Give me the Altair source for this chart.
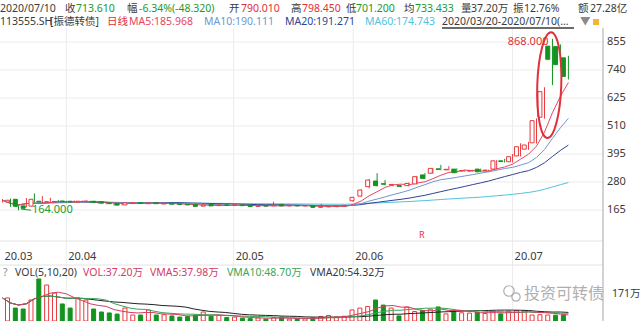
import altair as alt
import pandas as pd

# ---------------- data ----------------
opens = [198, 209, 182, 181, 201, 197, 198, 202, 201, 197,
         199, 201, 199, 194, 192, 186, 193, 195, 191, 194,
         190, 192, 189, 188, 187, 181, 188, 183, 186, 184,
         186, 185, 180, 184, 182, 188, 182, 184, 182, 183,
         176, 178, 179, 180, 203, 222, 261, 284, 273, 268,
         265, 265, 272, 309, 316, 334, 330, 333, 325, 325,
         333, 327, 333, 367, 363, 387, 415, 441, 546, 838,
         836, 790.01]
highs = [210, 212, 184, 214, 233, 222, 215, 205, 203, 204,
         204, 203, 200, 196, 193, 196, 197, 196, 196, 195,
         194, 193, 191, 190, 188, 187, 189, 188, 188, 188,
         187, 186, 185, 185, 199, 190, 186, 185, 185, 184,
         190, 182, 183, 186, 219, 250, 292, 316, 288, 272,
         268, 278, 305, 316, 338, 350, 345, 336, 330, 330,
         335, 331, 370, 375, 395, 439, 445, 541, 669, 868,
         845, 798.45]
lows = [196, 178, 164, 176, 195, 194, 195, 197, 195, 195,
        197, 195, 191, 189, 183, 184, 191, 190, 189, 189,
        188, 187, 186, 185, 178, 179, 180, 181, 183, 182,
        181, 177, 178, 180, 181, 180, 180, 180, 180, 173,
        175, 176, 176, 178, 198, 220, 254, 262, 266, 262,
        258, 262, 270, 292, 314, 328, 327, 316, 322, 322,
        320, 324, 331, 360, 360, 385, 412, 438, 540, 678,
        752, 701.2]
closes = [205, 180, 172, 209, 198, 199, 200, 199, 198, 201,
          202, 197, 193, 191, 185, 194, 195, 192, 194, 191,
          192, 189, 188, 186, 180, 185, 182, 186, 184, 186,
          183, 179, 183, 181, 185, 182, 184, 182, 183, 176,
          179, 180, 181, 184, 217, 247, 288, 265, 271, 270,
          262, 274, 302, 295, 336, 332, 332, 318, 327, 326,
          322, 329, 367, 364, 384, 425, 432, 532, 651, 784,
          761.93, 713.61]
volumes = [146, 82, 76, 133, 266, 228, 177, 108, 82, 146,
           133, 76, 57, 51, 44, 82, 38, 38, 70, 38,
           40, 32, 25, 28, 38, 57, 30, 35, 22, 25,
           18, 15, 20, 12, 22, 25, 12, 15, 13, 20,
           28, 35, 25, 30, 70, 82, 92, 133, 101, 82,
           32, 89, 60, 66, 75, 89, 45, 60, 52, 50,
           55, 47.4, 60, 45, 62, 65, 65, 38, 40, 38,
           36.9, 37.2]
vol_up = [1, 0, 0, 1, 0, 1, 1, 0, 0, 1,
          1, 0, 0, 0, 0, 1, 1, 0, 1, 0,
          1, 0, 0, 0, 0, 1, 0, 1, 0, 1,
          0, 0, 1, 0, 1, 0, 1, 0, 1, 0,
          1, 1, 1, 1, 1, 1, 1, 0, 0, 1,
          0, 1, 1, 0, 1, 0, 1, 0, 1, 1,
          0, 1, 1, 0, 1, 1, 1, 1, 1, 1,
          0, 0]

price_ticks = [165, 280, 395, 510, 625, 740, 855]
vol_ticks = [171]
vol_tick_labels = ["171万"]
month_names = ["20.03", "20.04", "20.05", "20.06", "20.07"]
month_idx = [0, 8, 29, 44, 64]

# header texts
line1_text = ["2020/07/10", "收", "713.610", "幅", "-6.34%(-48.320)", "开", "790.010", "高", "798.450",
              "低", "701.200", "均", "733.433", "量", "37.20万", "振", "12.76%", "额", "27.28亿"]
line2_text = ["113555.SH", "[振德转债]", "日线", "MA5:185.968", "MA10:190.111", "MA20:191.271",
              "MA60:174.743", "2020/03/20-2020/07/10(…", "▼"]
vol_text = ["?", "VOL(5,10,20)", "VOL:37.20万", "VMA5:37.98万", "VMA10:48.70万", "VMA20:54.32万"]

# ---------------- styles ----------------
FONT = "Noto Sans, Noto Sans CJK SC, sans-serif"
RED = "#e8383d"
GREEN = "#12941f"
DARK = "#3a3a3a"
GRAY = "#8a8a8a"
TRED = "#e0303a"
TGRN = "#1c9a2a"
MA5C = "#e44862"
MA10C = "#6f97cf"
MA20C = "#2f4496"
MA60C = "#4fc3dc"
VRED = "#d23c64"
VGRN = "#3aa655"
GRID = "#ececec"

line1_x = [0, 65, 76, 127, 139, 229, 241, 291, 302, 346, 356, 404, 415, 461, 471, 513, 524, 578, 590]
line1_c = [DARK, DARK, TGRN, DARK, TGRN, DARK, TRED, DARK, TRED, DARK, TGRN, DARK, TGRN, DARK, DARK,
           DARK, DARK, DARK, DARK]
line2_x = [0, 50, 107, 129, 204, 285, 365, 442, 580]
line2_c = [DARK, DARK, TRED, MA5C, MA10C, MA20C, MA60C, DARK, GRAY]
vol_x = [3, 15, 83, 150, 227, 310]
vol_c = [GRAY, DARK, VRED, VRED, VGRN, DARK]

df = pd.DataFrame({"idx": list(range(len(closes))), "open": opens, "high": highs, "low": lows,
                   "close": closes, "vol": volumes, "vup": vol_up})
df["up"] = (df["close"] >= df["open"]).astype(int)

XS = alt.Scale(domain=[0, 71], range=[2.5, 568.4])
PS = alt.Scale(domain=[165, 855], range=[210, 42])
VS = alt.Scale(domain=[0, 171], range=[321, 294])


def X(field="idx"):
    return alt.X(f"{field}:Q", scale=XS, axis=None)


def PY(field):
    return alt.Y(f"{field}:Q", scale=PS, axis=None)


def VY(field):
    return alt.Y(f"{field}:Q", scale=VS, axis=None)


layers = []

# grid and frame
tick_df = pd.DataFrame({"v": price_ticks})
layers.append(alt.Chart(tick_df).mark_rule(color=GRID, strokeWidth=1).encode(
    y=PY("v"), x=alt.value(0), x2=alt.value(603)))
mdf = pd.DataFrame({"idx": month_idx, "name": month_names})
layers.append(alt.Chart(mdf).transform_filter("datum.idx > 0").mark_rule(color=GRID, strokeWidth=1).encode(
    x=X(), y=alt.value(28), y2=alt.value(321)))
sep_df = pd.DataFrame({"py": [241, 265]})
layers.append(alt.Chart(sep_df).mark_rule(color="#e2e2e2", strokeWidth=1).encode(
    y=alt.Y("py:Q", scale=None), x=alt.value(0), x2=alt.value(603)))
layers.append(alt.Chart(sep_df).mark_rule(color="#c4c4c4", strokeWidth=1).encode(
    x=alt.value(603), y=alt.value(28), y2=alt.value(321)))


# moving averages of price
def ma_line(n, color, start=0):
    c = alt.Chart(df).transform_window(ma="mean(close)", frame=[-(n - 1), 0], sort=[alt.SortField("idx")])
    if start:
        c = c.transform_filter(f"datum.idx >= {start}")
    return c.mark_line(color=color, strokeWidth=1).encode(x=X(), y=PY("ma"))


layers += [ma_line(60, MA60C, 15), ma_line(20, MA20C), ma_line(10, MA10C), ma_line(5, MA5C)]

# candles
layers.append(alt.Chart(df).transform_filter("datum.up == 1").mark_rule(color=RED, strokeWidth=1).encode(
    x=X(), y=PY("low"), y2="high:Q"))
layers.append(alt.Chart(df).transform_filter("datum.up == 0").mark_rule(color=GREEN, strokeWidth=1).encode(
    x=X(), y=PY("low"), y2="high:Q"))
layers.append(alt.Chart(df).transform_filter("datum.up == 1").mark_bar(
    size=4, fill="white", stroke=RED, strokeWidth=1).encode(x=X(), y=PY("open"), y2="close:Q"))
layers.append(alt.Chart(df).transform_filter("datum.up == 0").mark_bar(
    size=4, fill=GREEN, stroke=GREEN, strokeWidth=1).encode(x=X(), y=PY("open"), y2="close:Q"))

# volume
layers.append(alt.Chart(df).transform_filter("datum.vup == 1").mark_bar(
    size=4, fill="white", stroke=RED, strokeWidth=1).encode(x=X(), y=VY("vol")))
layers.append(alt.Chart(df).transform_filter("datum.vup == 0").mark_bar(
    size=4, fill=GREEN, stroke=GREEN, strokeWidth=1).encode(x=X(), y=VY("vol")))


def vma_line(n, color):
    return alt.Chart(df).transform_window(vm="mean(vol)", frame=[-(n - 1), 0], sort=[alt.SortField("idx")]).mark_line(
        color=color, strokeWidth=1).encode(x=X(), y=VY("vm"))


layers += [vma_line(20, "#222222"), vma_line(10, VGRN), vma_line(5, VRED)]

# axis labels
layers.append(alt.Chart(tick_df).mark_text(align="left", baseline="middle", font=FONT, fontSize=11,
                                           color=DARK).encode(y=PY("v"), x=alt.value(607),
                                                              text=alt.Text("v:Q", format="d")))
layers.append(alt.Chart(mdf).mark_text(align="left", baseline="middle", dx=2, font=FONT, fontSize=11,
                                       color=DARK).encode(x=X(), y=alt.value(257), text="name:N"))

# watermark
layers.append(alt.Chart(pd.DataFrame({"t": ["投资可转债"]})).mark_text(
    align="left", baseline="middle", font=FONT, fontSize=16, color="#9c9c9c", opacity=0.8).encode(
    x=alt.value(524), y=alt.value(294), text="t:N"))
layers.append(alt.Chart(pd.DataFrame({"px": [509, 516], "py": [291, 297], "s": [110, 70]})).mark_point(
    shape="circle", filled=False, color="#a8a8a8", strokeWidth=1.2, opacity=0.9).encode(
    x=alt.X("px:Q", scale=None), y=alt.Y("py:Q", scale=None), size=alt.Size("s:Q", scale=None)))

layers.append(alt.Chart(pd.DataFrame({"v": vol_ticks, "t": vol_tick_labels})).mark_text(
    align="left", baseline="middle", font=FONT, fontSize=10.5, color=DARK).encode(
    y=VY("v"), x=alt.value(612), text="t:N"))

# header texts
hdr = pd.DataFrame({
    "t": line1_text + line2_text + vol_text,
    "px": line1_x + line2_x + vol_x,
    "py": [8.5] * len(line1_text) + [22] * len(line2_text) + [273] * len(vol_text),
    "col": line1_c + line2_c + vol_c,
})
layers.append(alt.Chart(hdr).mark_text(align="left", baseline="middle", font=FONT, fontSize=10.5).encode(
    x=alt.X("px:Q", scale=None), y=alt.Y("py:Q", scale=None), color=alt.Color("col:N", scale=None, legend=None),
    text="t:N"))
layers.append(alt.Chart(sep_df).mark_rule(color=DARK, strokeWidth=1).encode(
    x=alt.value(442), x2=alt.value(574), y=alt.value(28)))
layers.append(alt.Chart(sep_df).mark_square(color="#f2b632", size=36, opacity=1).encode(
    x=alt.value(596), y=alt.value(22)))

# annotations
ELL = ("M0,-1C0.125,-1 0.2264,-0.5523 0.2264,0C0.2264,0.5523 0.125,1 0,1"
       "C-0.125,1 -0.2264,0.5523 -0.2264,0C-0.2264,-0.5523 -0.125,-1 0,-1Z")
layers.append(alt.Chart(pd.DataFrame({"idx": [68.6], "p": [678]})).mark_point(
    shape=ELL, size=11236, filled=False, color=TRED, strokeWidth=2, opacity=1, angle=2).encode(
    x=X(), y=PY("p")))
layers.append(alt.Chart(pd.DataFrame({"idx": [68.5], "p": [855], "t": ["868.000"]})).mark_text(
    align="right", baseline="middle", font=FONT, fontSize=11, color=TRED).encode(
    x=X(), y=PY("p"), text="t:N"))
layers.append(alt.Chart(pd.DataFrame({"idx": [3.7], "p": [165], "t": ["164.000"]})).mark_text(
    align="left", baseline="middle", font=FONT, fontSize=11, color=TGRN).encode(
    x=X(), y=PY("p"), text="t:N"))
layers.append(alt.Chart(pd.DataFrame({"idx": [2.3], "i2": [3.6], "p": [169], "p2": [164]})).mark_rule(
    color=TGRN, strokeWidth=1).encode(x=X(), x2="i2:Q", y=PY("p"), y2="p2:Q"))
layers.append(alt.Chart(pd.DataFrame({"idx": [52.6], "p": [62], "t": ["R"]})).mark_text(
    align="center", baseline="middle", font=FONT, fontSize=9, color=TRED).encode(
    x=X(), y=PY("p"), text="t:N"))

chart = alt.layer(*layers).resolve_scale(x="independent", y="independent", color="independent").properties(
    width=640, height=321, padding=0, autosize=alt.AutoSizeParams(type="none")
).configure_view(stroke=None)

chart.save("out.html", embed_options={"renderer": "svg", "actions": False})
